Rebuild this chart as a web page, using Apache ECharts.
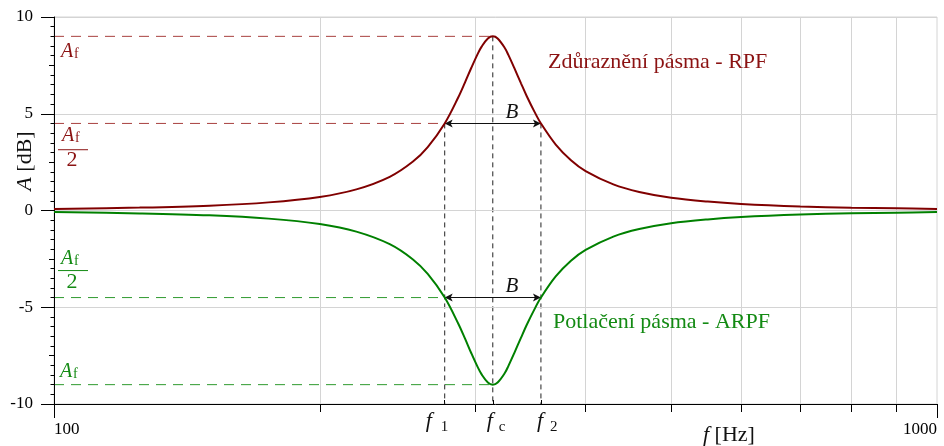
<!DOCTYPE html>
<html>
<head>
<meta charset="utf-8">
<script src="https://cdn.jsdelivr.net/npm/echarts@6/dist/echarts.min.js"></script>
<style>
  html, body { margin: 0; padding: 0; background: #ffffff; }
  #chart { width: 944px; height: 446px; }
</style>
</head>
<body>
<div id="chart"></div>
<script>
// Frequency response of a peaking (RPF) and a notch-type (ARPF) filter section.
const frequencies = [100, 125, 150, 175, 200, 220, 240, 255, 265, 277, 287, 292, 297, 302, 305, 310, 314, 318, 324, 327, 332, 338, 343, 350, 356, 370, 385, 400, 430, 460, 500, 550, 600, 700, 800, 900, 1000];
const boostDb = [0.08, 0.15, 0.25, 0.42, 0.70, 1.09, 1.74, 2.53, 3.28, 4.5, 5.85, 6.61, 7.39, 8.11, 8.47, 8.89, 9.0, 8.89, 8.40, 8.04, 7.38, 6.57, 5.92, 5.11, 4.5, 3.41, 2.60, 2.04, 1.35, 0.96, 0.66, 0.46, 0.34, 0.21, 0.14, 0.11, 0.08];
const cutDb = [-0.08, -0.15, -0.25, -0.42, -0.70, -1.09, -1.74, -2.53, -3.28, -4.5, -5.85, -6.61, -7.39, -8.11, -8.47, -8.89, -9.0, -8.89, -8.40, -8.04, -7.38, -6.57, -5.92, -5.11, -4.5, -3.41, -2.60, -2.04, -1.35, -0.96, -0.66, -0.46, -0.34, -0.21, -0.14, -0.11, -0.08];

// Axis ticks and labels
const yLabelValues = [-10, -5, 0, 5, 10];
const yMidTickValues = [-7.5, -2.5, 2.5, 7.5];
const xLabelValues = [100, 1000];
const xGridValues = [200, 300, 400, 500, 600, 700, 800, 900];

// Characteristic frequencies and levels
const fLow = 277;
const fCenter = 314;
const fHigh = 356;
const peakDb = 9;
const halfDb = 4.5;
const fStart = 100;
const yBottom = -10;

const SERIF = '"Liberation Serif", "Times New Roman", serif';
const RED = '#800000';
const RED_TEXT = '#8b1212';
const RED_DASH = '#a8403f';
const GREEN = '#008000';
const GREEN_TEXT = '#138a13';
const GREEN_DASH = '#2f9a2f';
const GRID = '#d4d4d4';

const boostData = frequencies.map((f, i) => [f, boostDb[i]]);
const cutData = frequencies.map((f, i) => [f, cutDb[i]]);

// A straight guide segment drawn as its own line series
function segment(p1, p2, color, dash, z) {
  return {
    type: 'line', xAxisIndex: 0, yAxisIndex: 0, silent: true,
    data: [p1, p2], showSymbol: false, symbol: 'none', smooth: false,
    lineStyle: { color: color, width: 1, type: dash },
    z: z || 2
  };
}
function arrow(x1, x2, y) {
  return [
    { coord: [x1, y], symbol: 'arrow', symbolSize: [6, 8], lineStyle: { color: '#111', width: 1, type: 'solid' }, itemStyle: { color: '#111' } },
    { coord: [x2, y], symbol: 'arrow', symbolSize: [6, 8], lineStyle: { color: '#111', width: 1, type: 'solid' }, itemStyle: { color: '#111' } }
  ];
}

const levelDash = [10, 7];
const guideDash = [5, 4];

const logAxisBase = {
  type: 'log',
  logBase: 10,
  min: 100,
  max: 1000,
  gridIndex: 0,
  position: 'bottom',
  axisLine: { show: false, onZero: false },
  axisLabel: { show: false },
  splitLine: { show: false },
  minorTick: { show: false },
  minorSplitLine: { show: false }
};

const option = {
  animation: false,
  backgroundColor: '#ffffff',
  grid: {
    left: 54, right: 7, top: 17, bottom: 42,
    show: true, borderColor: GRID, borderWidth: 1, backgroundColor: 'transparent'
  },
  xAxis: [
    Object.assign({}, logAxisBase, {
      axisLine: { show: true, onZero: false, lineStyle: { color: '#000', width: 1 } },
      axisTick: { show: true, inside: false, length: 8, customValues: xGridValues, lineStyle: { color: '#000' } },
      axisLabel: {
        show: true, customValues: xLabelValues, margin: 17,
        fontFamily: SERIF, fontSize: 17, color: '#000',
        formatter: (v) => String(v),
        alignMinLabel: 'left', alignMaxLabel: 'right',
        showMinLabel: true, showMaxLabel: true
      },
      splitLine: { show: true, lineStyle: { color: GRID, width: 1 } },
      z: 3
    }),
    Object.assign({}, logAxisBase, {
      axisTick: { show: true, inside: false, length: 14, customValues: xLabelValues, lineStyle: { color: '#000' } }
    }),
    Object.assign({}, logAxisBase, {
      axisTick: { show: true, inside: true, length: 4, customValues: [fLow, fCenter, fHigh], lineStyle: { color: '#000' } }
    })
  ],
  yAxis: [
    {
      type: 'value', min: -10, max: 10, interval: 5, gridIndex: 0, position: 'left',
      axisLine: { show: true, onZero: false, lineStyle: { color: '#000', width: 1 } },
      axisTick: { show: true, inside: false, length: 13, lineStyle: { color: '#000' } },
      minorTick: { show: true, splitNumber: 10, length: 3.5, lineStyle: { color: '#000' } },
      axisLabel: {
        show: true, customValues: yLabelValues, margin: 21,
        fontFamily: SERIF, fontSize: 17, color: '#000'
      },
      splitLine: { show: true, lineStyle: { color: GRID, width: 1 } },
      z: 3
    },
    {
      type: 'value', min: -10, max: 10, gridIndex: 0, position: 'left',
      axisLine: { show: false, onZero: false },
      axisTick: { show: true, inside: false, length: 5, customValues: yMidTickValues, lineStyle: { color: '#000' } },
      axisLabel: { show: false },
      splitLine: { show: false }
    }
  ],
  series: [
    // Level guides
    segment([fStart, peakDb], [fCenter, peakDb], RED_DASH, levelDash),
    segment([fStart, halfDb], [fLow, halfDb], RED_DASH, levelDash),
    segment([fStart, -halfDb], [fLow, -halfDb], GREEN_DASH, levelDash),
    segment([fStart, -peakDb], [fCenter, -peakDb], GREEN_DASH, levelDash),
    // Frequency guides
    segment([fLow, halfDb], [fLow, yBottom], '#222', guideDash),
    segment([fCenter, peakDb], [fCenter, yBottom], '#222', guideDash),
    segment([fHigh, halfDb], [fHigh, yBottom], '#222', guideDash),
    {
      name: 'RPF', type: 'line', xAxisIndex: 0, yAxisIndex: 0,
      data: boostData, smooth: 0.35, showSymbol: false, symbol: 'none', silent: true,
      lineStyle: { color: RED, width: 2 }, z: 5,
      markLine: {
        silent: true, symbol: ['none', 'none'],
        label: { show: false }, emphasis: { disabled: true },
        data: [arrow(fLow, fHigh, halfDb)]
      }
    },
    {
      name: 'ARPF', type: 'line', xAxisIndex: 0, yAxisIndex: 0,
      data: cutData, smooth: 0.35, showSymbol: false, symbol: 'none', silent: true,
      lineStyle: { color: GREEN, width: 2 }, z: 5,
      markLine: {
        silent: true, symbol: ['none', 'none'],
        label: { show: false }, emphasis: { disabled: true },
        data: [arrow(fLow, fHigh, -halfDb)]
      }
    }
  ]
};

const chart = echarts.init(document.getElementById('chart'), null, { renderer: 'canvas' });
chart.setOption(option);

const toPx = (f, v) => chart.convertToPixel({ xAxisIndex: 0, yAxisIndex: 0 }, [f, v]);

function text(x, y, str, size, color, opts) {
  opts = opts || {};
  return {
    type: 'text', x: x, y: y, rotation: opts.rotation || 0, silent: true, z: 10,
    style: {
      text: str, fill: color, fontFamily: SERIF, fontSize: size,
      fontStyle: opts.italic ? 'italic' : 'normal',
      align: opts.align || 'left', verticalAlign: 'middle',
      rich: opts.rich
    }
  };
}
function rule(x1, x2, y, color) {
  return {
    type: 'line', silent: true, z: 10,
    shape: { x1: x1, y1: y, x2: x2, y2: y },
    style: { stroke: color, lineWidth: 1 }
  };
}
// Italic symbol with an upright subscript
function symbolSub(x, y, main, sub, mainSize, subSize, subDx, subDy, color) {
  return [
    text(x, y, main, mainSize, color, { italic: true }),
    text(x + subDx, y + subDy, sub, subSize, color)
  ];
}

const yPeak = toPx(fStart, peakDb)[1];
const yHalf = toPx(fStart, halfDb)[1];
const yHalfN = toPx(fStart, -halfDb)[1];
const yPeakN = toPx(fStart, -peakDb)[1];
const xLow = toPx(fLow, 0)[0];
const xCenter = toPx(fCenter, 0)[0];
const xHigh = toPx(fHigh, 0)[0];

const graphics = [].concat(
  // Gain level labels (boost)
  symbolSub(61, yPeak + 15.3, 'A', 'f', 20, 14, 13, 2.8, RED_TEXT),
  symbolSub(62, yHalf + 12.3, 'A', 'f', 20, 14, 13, 2.8, RED_TEXT),
  [rule(58, 88, yHalf + 26.3, RED_TEXT), text(72, yHalf + 37, '2', 22, RED_TEXT, { align: 'center' })],
  // Gain level labels (cut)
  symbolSub(61, yHalfN - 38.7, 'A', 'f', 20, 14, 13, 2.8, GREEN_TEXT),
  [rule(58, 88, yHalfN - 27, GREEN_TEXT), text(72, yHalfN - 15, '2', 22, GREEN_TEXT, { align: 'center' })],
  symbolSub(60, yPeakN - 13, 'A', 'f', 20, 14, 13, 2.8, GREEN_TEXT),
  // Bandwidth labels
  [
    text(xCenter + 19, yHalf - 11.2, 'B', 21, '#111', { italic: true, align: 'center' }),
    text(xCenter + 19, yHalfN - 11.2, 'B', 21, '#111', { italic: true, align: 'center' })
  ],
  // Frequency markers below the axis
  symbolSub(xLow - 19, 421.6, 'f', '1', 22, 15, 15, 5, '#111'),
  symbolSub(xCenter - 6, 421.6, 'f', 'c', 22, 15, 12, 5, '#111'),
  symbolSub(xHigh - 4, 421.6, 'f', '2', 22, 15, 13, 5, '#111'),
  // Curve captions
  [
    text(548, 62.5, 'Zdůraznění pásma - RPF', 22, RED_TEXT),
    text(553, 322.5, 'Potlačení pásma - ARPF', 22, GREEN_TEXT)
  ],
  // Axis titles
  [
    {
      type: 'text', x: 25, y: 161, rotation: Math.PI / 2, silent: true, z: 10,
      style: {
        text: '{i|A} [dB]', fill: '#111', fontFamily: SERIF, fontSize: 22,
        align: 'center', verticalAlign: 'middle',
        rich: { i: { fontFamily: SERIF, fontSize: 22, fontStyle: 'italic', fill: '#111' } }
      }
    },
    {
      type: 'text', x: 703, y: 435, silent: true, z: 10,
      style: {
        text: '{i|f} [Hz]', fill: '#111', fontFamily: SERIF, fontSize: 22,
        align: 'left', verticalAlign: 'middle',
        rich: { i: { fontFamily: SERIF, fontSize: 22, fontStyle: 'italic', fill: '#111' } }
      }
    }
  ]
);

chart.setOption({ graphic: { elements: graphics } });
</script>
</body>
</html>
